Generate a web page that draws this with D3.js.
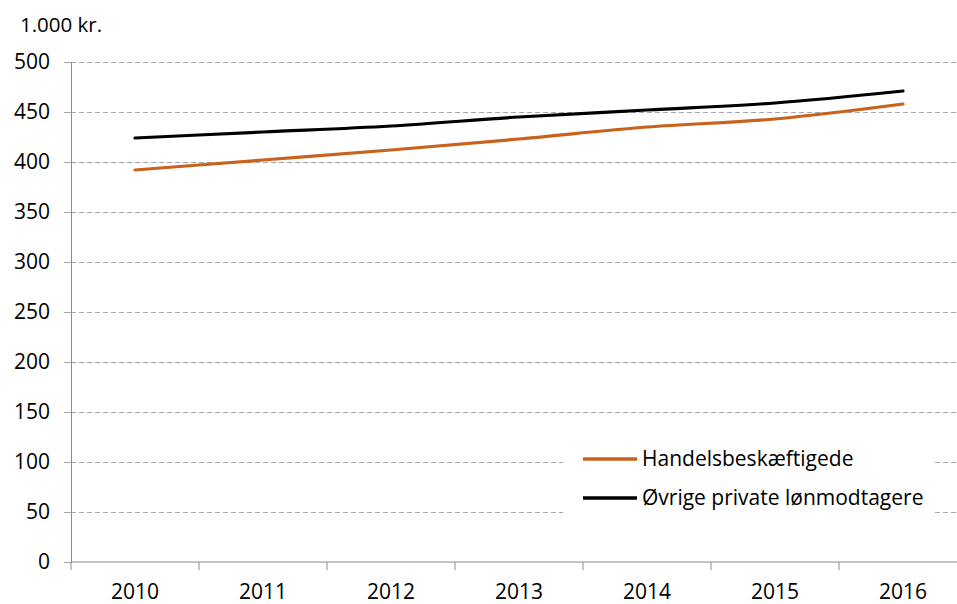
<!DOCTYPE html>
<html>
<head>
<meta charset="utf-8">
<script src="https://cdn.jsdelivr.net/npm/d3@7"></script>
<style>
  body { margin: 0; background: #fff; }
  svg text { font-family: 'Open Sans', 'Noto Sans', sans-serif; fill: #000; }
</style>
</head>
<body>
<div class="d3-content"></div>
<script>
const years = ['2010', '2011', '2012', '2013', '2014', '2015', '2016'];
const handel = [392, 402, 412, 423, 435, 443, 458];
const oevrige = [424, 430, 436, 445, 452, 459, 471];
const seriesNames = ['Handelsbeskæftigede', 'Øvrige private lønmodtagere'];
const seriesColors = ['#C8621C', '#000000'];
const yTicks = [0, 50, 100, 150, 200, 250, 300, 350, 400, 450, 500];

const SVG_WIDTH = 957;
const SVG_HEIGHT = 604;
const MARGIN = { top: 62, left: 71 };
const CHART_WIDTH = 896;
const CHART_HEIGHT = 500;
const FONT = '21px';

const svg = d3.select('.d3-content')
  .append('svg')
  .attr('width', SVG_WIDTH)
  .attr('height', SVG_HEIGHT);

const xscale = d3.scaleBand()
  .domain(years)
  .range([0, CHART_WIDTH]);

const yscale = d3.scaleLinear()
  .domain([0, 500])
  .range([CHART_HEIGHT, 0]);

const chart = svg.append('g')
  .attr('transform', `translate(${MARGIN.left}, ${MARGIN.top})`);

// gridlines
chart.append('g')
  .selectAll('line')
  .data(yTicks.filter(d => d > 0))
  .join('line')
  .attr('x1', 0)
  .attr('x2', CHART_WIDTH)
  .attr('y1', d => yscale(d) + 0.5)
  .attr('y2', d => yscale(d) + 0.5)
  .attr('stroke', '#a6a6a6')
  .attr('stroke-width', 1.2)
  .attr('stroke-dasharray', '5,3');

// y axis
const yAxis = chart.append('g')
  .call(d3.axisLeft(yscale).tickValues(yTicks).tickSize(7).tickPadding(14));
yAxis.selectAll('text').style('font-size', FONT);
yAxis.select('.domain').attr('stroke', '#8c8c8c');
yAxis.selectAll('.tick line').attr('stroke', '#a6a6a6');

// x axis, ticks between categories
const xAxis = chart.append('g')
  .attr('transform', `translate(0, ${CHART_HEIGHT})`);
xAxis.append('line')
  .attr('x1', 0)
  .attr('x2', CHART_WIDTH)
  .attr('stroke', '#8c8c8c');
xAxis.selectAll('.sep')
  .data(years.concat(['end']))
  .join('line')
  .attr('class', 'sep')
  .attr('x1', (d, i) => i * xscale.step())
  .attr('x2', (d, i) => i * xscale.step())
  .attr('y1', 0)
  .attr('y2', 8)
  .attr('stroke', '#8c8c8c');
xAxis.selectAll('text')
  .data(years)
  .join('text')
  .attr('x', d => xscale(d) + xscale.bandwidth() / 2)
  .attr('y', 37)
  .attr('text-anchor', 'middle')
  .style('font-size', FONT)
  .text(d => d);

// unit label
svg.append('text')
  .text('1.000 kr.')
  .attr('x', 20)
  .attr('y', 32)
  .style('font-size', '20.5px');

const generator = d3.line()
  .x((d, i) => xscale(years[i]) + xscale.bandwidth() / 2)
  .y(d => yscale(d))
  .curve(d3.curveMonotoneX);

[handel, oevrige].forEach((s, i) => {
  chart.append('path')
    .datum(s)
    .attr('d', generator)
    .attr('fill', 'none')
    .attr('stroke', seriesColors[i])
    .attr('stroke-width', 3.2)
    .attr('stroke-linecap', 'round');
});

// legend
const legend = svg.append('g');
legend.append('rect')
  .attr('x', 563)
  .attr('y', 438)
  .attr('width', 372)
  .attr('height', 82)
  .attr('fill', '#fff');
seriesNames.forEach((name, i) => {
  const y = 459 + i * 39;
  legend.append('line')
    .attr('x1', 583)
    .attr('x2', 637)
    .attr('y1', y)
    .attr('y2', y)
    .attr('stroke', seriesColors[i])
    .attr('stroke-width', 3.5);
  legend.append('text')
    .attr('x', 642)
    .attr('y', y + 7)
    .style('font-size', FONT)
    .text(name);
});
</script>
</body>
</html>
